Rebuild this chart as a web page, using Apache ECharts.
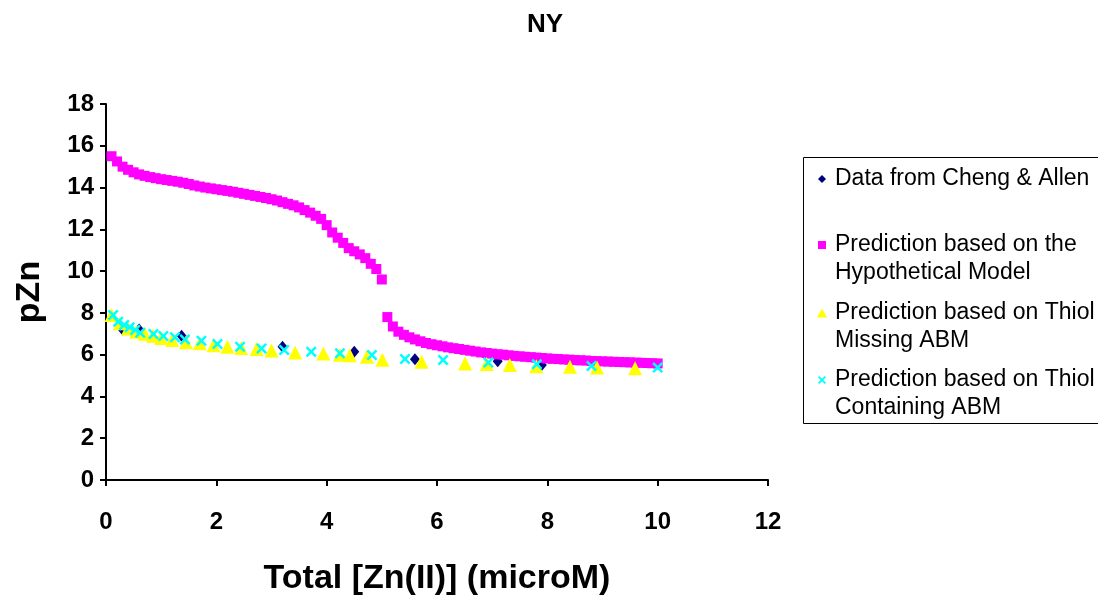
<!DOCTYPE html>
<html>
<head>
<meta charset="utf-8">
<script src="https://cdn.jsdelivr.net/npm/echarts@6/dist/echarts.min.js"></script>
<style>
html,body{margin:0;padding:0;background:#fff;}
#chart{width:1098px;height:596px;}
</style>
</head>
<body>
<div id="chart"></div>
<script>
// ---- data ----
const seriesNames = [
  'Data from Cheng & Allen',
  'Prediction based on the Hypothetical Model',
  'Prediction based on Thiol Missing ABM',
  'Prediction based on Thiol Containing ABM'
];
const legendFirstLines = [
  'Data from Cheng & Allen',
  'Prediction based on the',
  'Prediction based on Thiol',
  'Prediction based on Thiol'
];
const legendSecondLines = ['', 'Hypothetical Model', 'Missing ABM', 'Containing ABM'];
const xTicks = [0, 2, 4, 6, 8, 10, 12];
const yTicks = [0, 2, 4, 6, 8, 10, 12, 14, 16, 18];

const chengX = [0.3, 0.6, 1.37, 3.2, 4.5, 5.6, 7.1, 7.9];
const chengY = [7.2, 7.2, 6.9, 6.38, 6.14, 5.78, 5.68, 5.5];

const hypX = [0.1,0.2,0.3,0.4,0.5,0.6,0.7,0.8,0.9,1.0,
  1.1,1.2,1.3,1.4,1.5,1.6,1.7,1.8,1.9,2.0,
  2.1,2.2,2.3,2.4,2.5,2.6,2.7,2.8,2.9,3.0,
  3.1,3.2,3.3,3.4,3.5,3.6,3.7,3.8,3.9,4.0,
  4.1,4.2,4.3,4.4,4.5,4.6,4.7,4.8,4.9,5.0,
  5.1,5.2,5.3,5.4,5.5,5.6,5.7,5.8,5.9,6.0,
  6.1,6.2,6.3,6.4,6.5,6.6,6.7,6.8,6.9,7.0,
  7.1,7.2,7.3,7.4,7.5,7.6,7.7,7.8,7.9,8.0,
  8.1,8.2,8.3,8.4,8.5,8.6,8.7,8.8,8.9,9.0,
  9.1,9.2,9.3,9.4,9.5,9.6,9.7,9.8,9.9,10.0];
const hypY = [15.5,15.25,15.0,14.85,14.73,14.63,14.56,14.5,14.45,14.4,
  14.36,14.32,14.28,14.23,14.17,14.1,14.05,14.0,13.96,13.92,
  13.88,13.84,13.8,13.75,13.7,13.65,13.6,13.55,13.5,13.44,
  13.38,13.3,13.22,13.15,13.05,12.92,12.8,12.65,12.5,12.2,
  11.85,11.6,11.35,11.1,10.95,10.8,10.62,10.35,10.1,9.6,
  7.8,7.35,7.1,6.95,6.83,6.73,6.64,6.56,6.5,6.45,
  6.4,6.35,6.31,6.27,6.23,6.19,6.15,6.11,6.08,6.05,
  6.02,6.0,5.97,5.94,5.92,5.9,5.88,5.86,5.84,5.82,
  5.8,5.79,5.77,5.76,5.74,5.73,5.72,5.7,5.69,5.68,
  5.67,5.66,5.65,5.64,5.63,5.62,5.61,5.6,5.59,5.58];

const missX = [0.1,0.25,0.4,0.55,0.7,0.85,1.0,1.2,1.45,1.7,1.95,2.2,2.45,2.73,3.0,3.43,3.94,4.24,4.42,4.73,5.01,5.72,6.51,6.9,7.32,7.8,8.41,8.9,9.59];
const missY = [7.9,7.5,7.25,7.1,7.0,6.9,6.8,6.7,6.6,6.55,6.45,6.38,6.32,6.27,6.2,6.1,6.05,6.0,5.97,5.9,5.76,5.66,5.58,5.55,5.5,5.45,5.42,5.38,5.35];

const contX = [0.13,0.22,0.33,0.43,0.53,0.62,0.86,1.04,1.25,1.43,1.73,2.02,2.43,2.82,3.23,3.72,4.24,4.82,5.42,6.11,6.93,7.81,8.8,10.0];
const contY = [7.9,7.58,7.42,7.31,7.18,7.05,6.99,6.89,6.83,6.73,6.67,6.51,6.38,6.3,6.22,6.14,6.07,5.98,5.79,5.74,5.63,5.54,5.46,5.38];

const zip = (xs, ys) => xs.map((x, i) => [x, ys[i]]);

const crossPath = 'path://M0,1.6 L1.6,0 L5,3.4 L8.4,0 L10,1.6 L6.6,5 L10,8.4 L8.4,10 L5,6.6 L1.6,10 L0,8.4 L3.4,5 Z';
const colors = ['#000080', '#FF00FF', '#FFFF00', '#00FFFF'];
const symbols = ['diamond', 'rect', 'triangle', crossPath];
const sizes = [[10, 12], 10, 14, 11];
const legendIcons = ['diamond', 'rect', 'triangle', crossPath];
const legendIconW = [8, 8, 10, 8];
const legendIconH = [8, 8, 9, 8];
const legendIconY = [179, 245, 313, 380];
const ICON_CX = 822;
const TEXT_X = 835;
const LINE_H = 28;
const LEG_PAD = 5;

const FONT = '"Liberation Sans", Arial, sans-serif';

const chart = echarts.init(document.getElementById('chart'));

const legends = seriesNames.map((name, i) => {
  const left = ICON_CX - legendIconW[i] / 2 - LEG_PAD;
  const padLeft = Math.max(0, TEXT_X - (left + LEG_PAD + legendIconW[i] + 5));
  return {
    data: [{ name: name, icon: legendIcons[i] }],
    left: left,
    top: legendIconY[i] - LEG_PAD - LINE_H / 2,
    padding: LEG_PAD,
    itemWidth: legendIconW[i],
    itemHeight: legendIconH[i],
    selectedMode: false,
    formatter: () => legendFirstLines[i],
    textStyle: {
      fontFamily: FONT,
      fontSize: 23,
      color: '#000',
      lineHeight: LINE_H,
      padding: [0, 0, 0, padLeft]
    }
  };
});

const secondLineGraphics = legendSecondLines.map((t, i) => ({
  type: 'text',
  x: TEXT_X,
  y: legendIconY[i] + LINE_H,
  silent: true,
  style: {
    text: t,
    font: '23px ' + FONT,
    fill: '#000',
    verticalAlign: 'middle',
    align: 'left'
  },
  z: 5
})).filter(g => g.style.text);

const option = {
  backgroundColor: '#fff',
  animation: false,
  title: {
    text: 'NY',
    left: 522,
    top: 7,
    textStyle: { fontFamily: FONT, fontSize: 26, fontWeight: 'bold', color: '#000' }
  },
  legend: legends,
  graphic: [{
    type: 'rect',
    shape: { x: 803.5, y: 157.5, width: 400, height: 266 },
    style: { fill: 'none', stroke: '#000', lineWidth: 1 },
    z: 1
  }].concat(secondLineGraphics),
  grid: { left: 106, top: 104, width: 662, height: 376, containLabel: false, outerBoundsMode: 'none' },
  xAxis: {
    type: 'value',
    min: 0, max: 12, interval: 2,
    name: 'Total [Zn(II)] (microM)',
    nameLocation: 'middle',
    nameGap: 82,
    nameTextStyle: { fontFamily: FONT, fontSize: 34, fontWeight: 'bold', color: '#000' },
    axisLine: { onZero: false, lineStyle: { color: '#000', width: 2 } },
    axisTick: { show: true, inside: false, length: 6, lineStyle: { color: '#000', width: 2 } },
    axisLabel: {
      margin: 30, fontFamily: FONT, fontSize: 24, fontWeight: 'bold', color: '#000',
      formatter: v => xTicks.includes(v) ? String(v) : ''
    },
    splitLine: { show: false }
  },
  yAxis: {
    type: 'value',
    min: 0, max: 18, interval: 2,
    name: 'pZn',
    nameLocation: 'middle',
    nameGap: 59,
    nameRotate: 90,
    nameTextStyle: { fontFamily: FONT, fontSize: 34, fontWeight: 'bold', color: '#000' },
    axisLine: { show: true, onZero: false, lineStyle: { color: '#000', width: 2 } },
    axisTick: { show: true, inside: false, length: 6, lineStyle: { color: '#000', width: 2 } },
    axisLabel: {
      margin: 12, fontFamily: FONT, fontSize: 24, fontWeight: 'bold', color: '#000',
      formatter: v => yTicks.includes(v) ? String(v) : ''
    },
    splitLine: { show: false }
  },
  series: [
    zip(chengX, chengY), zip(hypX, hypY), zip(missX, missY), zip(contX, contY)
  ].map((data, i) => ({
    name: seriesNames[i],
    type: 'scatter',
    data: data,
    symbol: symbols[i],
    symbolSize: sizes[i],
    itemStyle: { color: colors[i], opacity: 1 },
    emphasis: { disabled: true },
    z: 2 + i
  }))
};

chart.setOption(option);
</script>
</body>
</html>
